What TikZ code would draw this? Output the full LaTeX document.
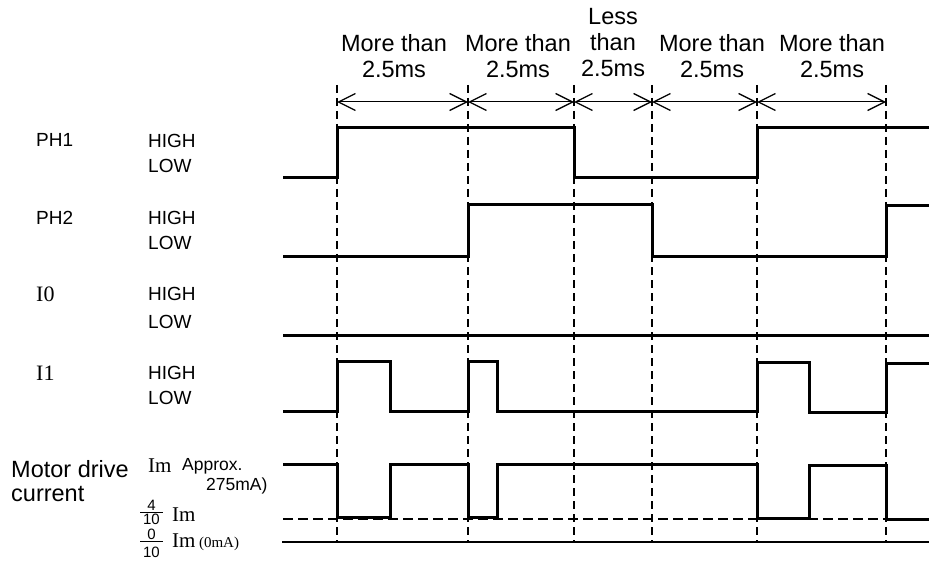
\documentclass[tikz,border=0pt]{standalone}
\usepackage{fontspec}
\setmainfont{Liberation Sans}
\newfontfamily\serifface{Liberation Serif}
\usetikzlibrary{arrows.meta}
\begin{document}
\begin{tikzpicture}[x=1pt,y=-1pt,
  wave/.style={line width=3pt, line join=miter},
  guide/.style={line width=1.4pt, dash pattern=on 8pt off 5pt},
  hguide/.style={line width=1.4pt, dash pattern=on 10pt off 5pt},
  barb/.tip={Straight Barb[length=17pt,width=17pt,line width=1.3pt]},
  dimline/.style={line width=1pt, barb-barb},
  lbl/.style={font=\fontsize{19}{22}\selectfont, anchor=west, inner sep=0pt},
  sig/.style={font=\fontsize{19}{22}\selectfont, anchor=west, inner sep=0pt},
  sersig/.style={font=\serifface\fontsize{22}{24}\selectfont, anchor=west, inner sep=0pt},
  toplbl/.style={font=\fontsize{23.5}{26}\selectfont, align=center, inner sep=0pt},
  biglbl/.style={font=\fontsize{23.5}{26}\selectfont, anchor=west, inner sep=0pt},
  small/.style={font=\fontsize{17.5}{20}\selectfont, anchor=west, inner sep=0pt},
  imlbl/.style={font=\serifface\fontsize{21}{22}\selectfont, anchor=west, inner sep=0pt},
  fracdig/.style={font=\fontsize{15}{17}\selectfont, inner sep=0pt, anchor=base, text height=10.5pt, text depth=0pt},
  fracbar/.style={line width=1pt},
]
\useasboundingbox (0,0) rectangle (929,564);

% time marks
\foreach \n/\x in {1/337,2/468,3/574,4/652,5/757,6/886}{
  \coordinate (gt\n) at (\x,85);
  \coordinate (ga\n) at (\x,102);
  \coordinate (gb\n) at (\x,542);
}
% vertical guides
\foreach \n in {1,...,6}{ \draw[guide] (gt\n) -- (gb\n); }

% dimension arrows
\draw[dimline] (ga1) -- (ga2);
\draw[dimline] (ga2) -- (ga3);
\draw[dimline] (ga3) -- (ga4);
\draw[dimline] (ga4) -- (ga5);
\draw[dimline] (ga5) -- (ga6);

% top labels
\node[toplbl] (d1) at (394,56) {More than\\2.5ms};
\node[toplbl] (d2) at (518,56) {More than\\2.5ms};
\node[toplbl] (d3) at (613,43) {Less\\than\\2.5ms};
\node[toplbl] (d4) at (712,56) {More than\\2.5ms};
\node[toplbl] (d5) at (832,56) {More than\\2.5ms};

% left labels
\node[sig] (nph1) at (36,140) {PH1};
\node[lbl] (ph1h) at (148,141) {HIGH};
\node[lbl] (ph1l) at (148,166) {LOW};
\node[sig] (nph2) at (36,218) {PH2};
\node[lbl] (ph2h) at (148,218) {HIGH};
\node[lbl] (ph2l) at (148,243) {LOW};
\node[sersig] (ni0) at (36,294) {I0};
\node[lbl] (i0h) at (148,294) {HIGH};
\node[lbl] (i0l) at (148,322) {LOW};
\node[sersig] (ni1) at (36,373) {I1};
\node[lbl] (i1h) at (148,373) {HIGH};
\node[lbl] (i1l) at (148,398) {LOW};

\node[biglbl] (mot1) at (11,469) {Motor drive};
\node[biglbl] (mot2) at (11,494) {current};
\node[imlbl] (im1) at (148,466) {Im};
\node[small] (apx) at (182,466) {Approx.};
\node[small] (apx2) at (206,486) {275mA)};

% fraction 4/10
\node[fracdig] (f4n) at (151.5,510) {4};
\node[fracdig] (f4d) at (151.5,524.5) {10};
\draw[fracbar] (140,512) -- (163,512);
\node[imlbl] (im2) at (172,515) {Im};
% fraction 0/10
\node[fracdig] (f0n) at (151.5,539.5) {0};
\node[fracdig] (f0d) at (151.5,557) {10};
\draw[fracbar] (140,541.5) -- (163,541.5);
\node[imlbl] (im3) at (172,542) {Im\,{\fontsize{15}{16}\selectfont(0mA)}};

% waveforms
% PH1
\draw[wave] (283,178) -- (337,178) -- (337,128) -- (574,128) -- (574,178) -- (757,178) -- (757,128) -- (929,128);
% PH2
\draw[wave] (283,256) -- (468,256) -- (468,205) -- (652,205) -- (652,256) -- (886,256) -- (886,206) -- (929,206);
% I0
\draw[wave] (283,335) -- (929,335);
% I1
\draw[wave] (283,411) -- (337,411) -- (337,361) -- (390,361) -- (390,411) -- (468,411) -- (468,361) -- (497,361) -- (497,411)
  -- (757,411) -- (757,362) -- (809,362) -- (809,412) -- (886,412) -- (886,363) -- (929,363);
% Motor drive current
\draw[hguide] (283,519) -- (929,519);
\draw[line width=1.6pt] (282,542) -- (929,542);
\draw[wave] (283,464) -- (337,464) -- (337,517) -- (390,517) -- (390,464) -- (468,464) -- (468,517) -- (497,517) -- (497,464)
  -- (757,464) -- (757,518) -- (809,518) -- (809,465) -- (886,465) -- (886,519) -- (929,519);
\end{tikzpicture}
\end{document}
